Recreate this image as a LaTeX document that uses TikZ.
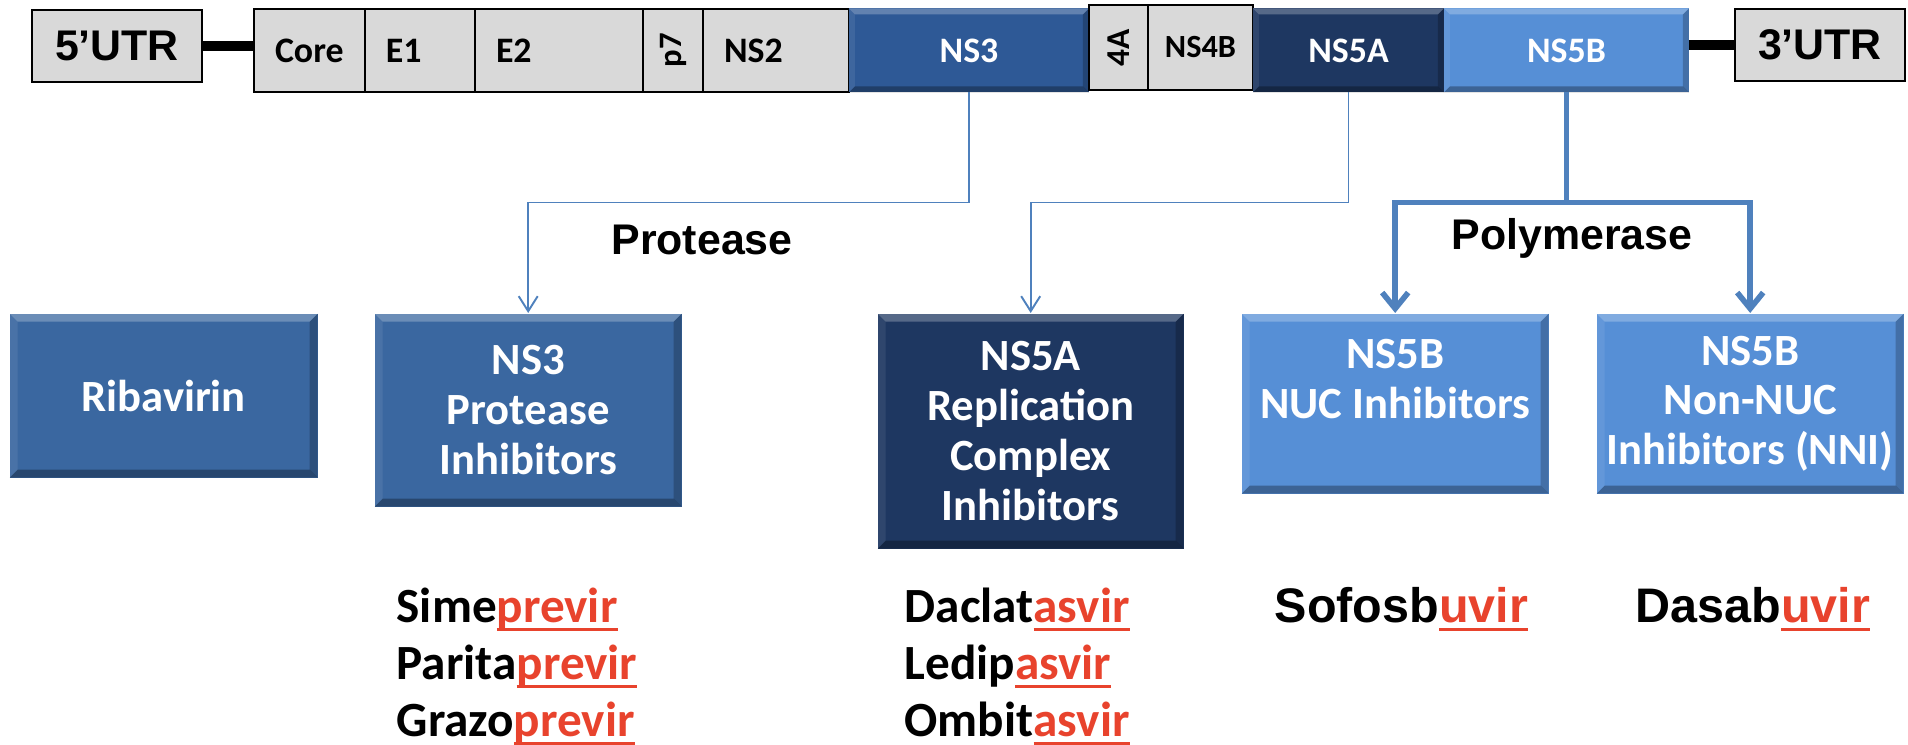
\documentclass[tikz,border=0pt]{standalone}
\usepackage{fontspec}
\setmainfont{Carlito}
\newfontfamily\arialfont{Liberation Sans}
\usetikzlibrary{positioning,arrows.meta}

% 色の定義
\definecolor{barGrey}{RGB}{217,217,217}
\definecolor{protBlue}{RGB}{46,89,150}
\definecolor{boxBlue}{RGB}{58,103,160}
\definecolor{navyBlue}{RGB}{30,55,97}
\definecolor{lightBlue}{RGB}{86,143,214}
\definecolor{linkBlue}{RGB}{79,129,189}
\definecolor{drugRed}{RGB}{232,67,45}

% 赤い下線付きの語尾
\newcommand{\redul}[1]{\textcolor{drugRed}{\setbox0=\hbox{#1}\rlap{\raisebox{-0.17em}{\rule{\wd0}{0.075em}}}\box0}}

\begin{document}
\begin{tikzpicture}[x=0.1mm, y=-0.1mm,
    bevel/.style={path picture={
        \fill[white, opacity=0.25] (path picture bounding box.north west) -- (path picture bounding box.north east) -- ([shift={(-#1,-#1)}]path picture bounding box.north east) -- ([shift={(#1,-#1)}]path picture bounding box.north west) -- cycle;
        \fill[white, opacity=0.08] (path picture bounding box.north west) -- ([shift={(#1,-#1)}]path picture bounding box.north west) -- ([shift={(#1,#1)}]path picture bounding box.south west) -- (path picture bounding box.south west) -- cycle;
        \fill[black, opacity=0.22] (path picture bounding box.north east) -- ([shift={(-#1,-#1)}]path picture bounding box.north east) -- ([shift={(-#1,#1)}]path picture bounding box.south east) -- (path picture bounding box.south east) -- cycle;
        \fill[black, opacity=0.3] (path picture bounding box.south west) -- ([shift={(#1,#1)}]path picture bounding box.south west) -- ([shift={(-#1,#1)}]path picture bounding box.south east) -- (path picture bounding box.south east) -- cycle;
    }},
    bevel/.default=0.8mm,
    seg/.style={rectangle, outer sep=0pt, minimum height=8.3mm, font=\bfseries\fontsize{10.2}{12}\selectfont},
    greyseg/.style={seg, draw=black, line width=0.8pt, fill=barGrey, inner xsep=2.1mm, inner ysep=0pt, align=left},
    blueseg/.style={seg, minimum height=8.4mm, inner sep=0pt, text=white, bevel=0.6mm},
    utrbox/.style={draw=black, line width=0.8pt, fill=barGrey, minimum width=17mm, minimum height=7.2mm, inner sep=0pt, font=\arialfont\bfseries\fontsize{12.2}{14}\selectfont},
    bigbox/.style={rectangle, anchor=north west, inner sep=0pt, text=white, align=center, bevel, font=\bfseries\fontsize{12.7}{14.2}\selectfont},
    thinlink/.style={draw=linkBlue, line width=0.55pt, -{Straight Barb[length=1.5mm, width=1.9mm]}},
    thicklink/.style={draw=linkBlue, line width=1.6pt},
    thickarrow/.style={thicklink, -{Straight Barb[length=1.6mm, width=2.6mm]}},
    linklabel/.style={font=\arialfont\bfseries\fontsize{12.2}{14}\selectfont},
    drug/.style={anchor=base west, inner sep=0pt, font=\bfseries\fontsize{14}{16}\selectfont},
    arialdrug/.style={drug, font=\arialfont\bfseries\fontsize{13.8}{16}\selectfont}]

    \useasboundingbox (0,0) rectangle (1908,745);

    % ゲノムの帯
    \node[utrbox] (UTR5) at (117,46) {5’UTR};
    \node[greyseg, text width=6.9mm, anchor=west] (Core) at (254,50.5) {Core};
    \node[greyseg, text width=6.8mm, right=0pt of Core] (E1) {E1};
    \node[greyseg, text width=12.6mm, right=0pt of E1] (E2) {E2};
    \node[greyseg, inner xsep=0pt, minimum width=6mm, right=0pt of E2] (p7) {\rotatebox{90}{\fontsize{9.3}{10}\selectfont p7}};
    \node[greyseg, text width=10.4mm, right=0pt of p7] (NS2) {NS2};
    \node[blueseg, fill=protBlue, minimum width=24mm, right=0pt of NS2] (NS3) {NS3\hspace{3.4mm}};
    \node[greyseg, inner xsep=0pt, minimum width=5.9mm, minimum height=8.5mm, right=0pt of NS3, yshift=0.3mm] (NS4A) {\rotatebox{90}{\fontsize{9.5}{10}\selectfont 4A}};
    \node[greyseg, inner xsep=0pt, minimum width=10.5mm, minimum height=8.5mm, right=0pt of NS4A, font=\bfseries\fontsize{9.2}{11}\selectfont] (NS4B) {NS4B};
    \node[blueseg, fill=navyBlue, minimum width=19.1mm, right=0pt of NS4B, yshift=-0.3mm] (NS5A) {NS5A\hspace{3mm}};
    \node[blueseg, fill=lightBlue, minimum width=24.5mm, right=0pt of NS5A] (NS5B) {NS5B\hspace{3.6mm}};
    \node[utrbox] (UTR3) at (1820,45) {3’UTR};

    \draw[line width=3.1pt] (UTR5.east) -- (UTR5.east -| Core.west);
    \draw[line width=3.1pt] (NS5B.east |- UTR3.west) -- (UTR3.west);

    % 薬剤クラスの箱
    \node[bigbox, fill=boxBlue, minimum width=30.8mm, minimum height=16.4mm] (RBV) at (9,313) {Ribavirin};
    \node[bigbox, fill=boxBlue, minimum width=30.7mm, minimum height=19.3mm] (PI) at (374,313) {NS3\\Protease\\Inhibitors};
    \node[bigbox, fill=navyBlue, minimum width=30.6mm, minimum height=23.5mm] (RCI) at (877,313) {NS5A\\Replication\\Complex\\Inhibitors};
    \node[bigbox, fill=lightBlue, minimum width=30.7mm, minimum height=18mm] (NUC) at (1241,313) {NS5B\\NUC Inhibitors\\\mbox{}};
    \node[bigbox, fill=lightBlue, minimum width=30.7mm, minimum height=18mm] (NNI) at (1596,313) {NS5B\\Non-NUC\\Inhibitors (NNI)};

    % 矢印
    \draw[thinlink] (NS3.south) -- ++(0,110) -| (PI.north);
    \draw[thinlink] (NS5A.south) -- ++(0,110) -| (RCI.north);
    \draw[thicklink] (NS5B.south) -- ++(0,110) coordinate (split);
    \draw[thickarrow] (split) -| (NUC.north);
    \draw[thickarrow] (split) -| (NNI.north);

    \node[linklabel] (protease) at (702,240) {Protease};
    \node[linklabel] (polymerase) at (1572,238) {Polymerase};

    % 薬剤名
    \node[drug] (sime) at (396,623) {Sime\redul{previr}};
    \node[drug] (parita) at (396,680) {Parita\redul{previr}};
    \node[drug] (grazo) at (396,737) {Grazo\redul{previr}};
    \node[drug] (daclat) at (904,623) {Daclat\redul{asvir}};
    \node[drug] (ledip) at (904,680) {Ledip\redul{asvir}};
    \node[drug] (ombit) at (904,737) {Ombit\redul{asvir}};
    \node[arialdrug] (sofos) at (1274,623) {Sofosb\redul{uvir}};
    \node[arialdrug] (dasab) at (1635,623) {Dasab\redul{uvir}};

\end{tikzpicture}
\end{document}
